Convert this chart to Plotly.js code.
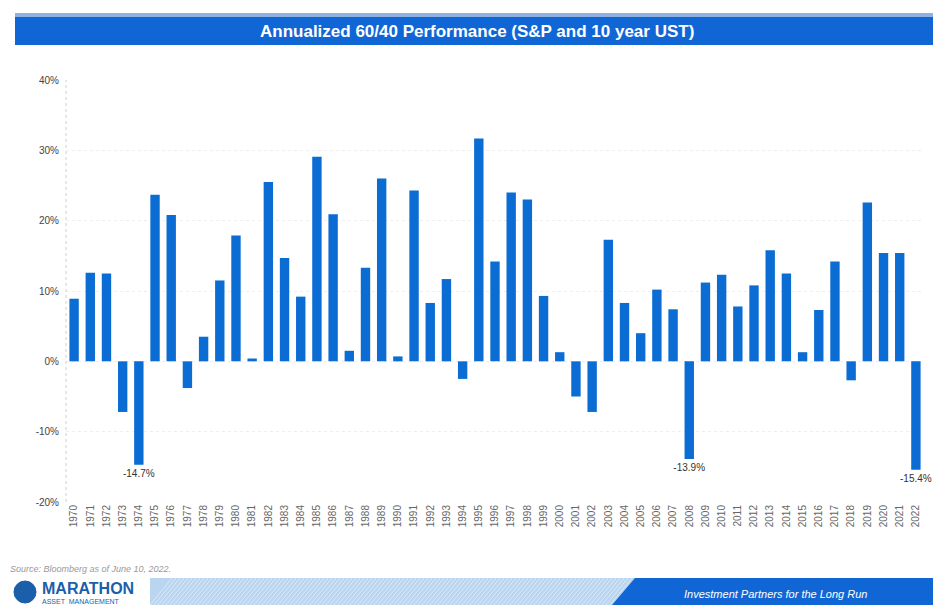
<!DOCTYPE html>
<html>
<head>
<meta charset="utf-8">
<script src="https://cdn.plot.ly/plotly-3.0.1.min.js"></script>
<style>html,body{margin:0;padding:0;background:#fff;}#chart{width:933px;height:605px;}</style>
</head>
<body>
<div id="chart"></div>
<script>
const years = ["1970","1971","1972","1973","1974","1975","1976","1977","1978","1979","1980","1981","1982","1983","1984","1985","1986","1987","1988","1989","1990","1991","1992","1993","1994","1995","1996","1997","1998","1999","2000","2001","2002","2003","2004","2005","2006","2007","2008","2009","2010","2011","2012","2013","2014","2015","2016","2017","2018","2019","2020","2021","2022"];
const returns = [8.9,12.6,12.5,-7.2,-14.7,23.7,20.8,-3.8,3.5,11.5,17.9,0.4,25.5,14.7,9.2,29.1,20.9,1.5,13.3,26.0,0.7,24.3,8.3,11.7,-2.5,31.7,14.2,24.0,23.0,9.3,1.3,-5.0,-7.2,17.3,8.3,4.0,10.2,7.4,-13.9,11.2,12.3,7.8,10.8,15.8,12.5,1.3,7.3,14.2,-2.7,22.6,15.4,15.4,-15.4];
const labelYears = ["1974","2008","2022"];
const yTickVals = [-20,-10,0,10,20,30,40];
const yTickText = ["-20%","-10%","0%","10%","20%","30%","40%"];
const titleText = "Annualized 60/40 Performance (S&P and 10 year UST)";
const sourceText = "Source: Bloomberg as of June 10, 2022.";
const taglineText = "Investment Partners for the Long Run";

const barText = years.map((y,i)=> labelYears.includes(y) ? returns[i].toFixed(1)+"%" : "");

// decorative hatch for footer band
let hatch = "";
for (let x = 150; x < 640; x += 4) {
  hatch += `M${x},605 L${x+22},578 `;
}

const trace = {
  type: "bar",
  x: years,
  y: returns,
  marker: {color: "#0b6dd3"},
  text: barText,
  textposition: "outside",
  constraintext: "none",
  textfont: {family: "Liberation Sans, Arial, sans-serif", size: 10, color: "#333"},
  cliponaxis: false,
  hoverinfo: "x+y"
};

const layout = {
  width: 933, height: 605,
  margin: {l: 66, r: 9, t: 80, b: 103},
  paper_bgcolor: "#fff", plot_bgcolor: "#fff",
  bargap: 0.42,
  showlegend: false,
  uniformtext: {mode: false},
  font: {family: "Liberation Sans, Arial, sans-serif", color: "#444"},
  xaxis: {
    type: "category",
    tickangle: -90,
    tickfont: {size: 10, color: "#666"},
    showgrid: false, showline: false, zeroline: false,
    ticks: ""
  },
  yaxis: {
    range: [-20, 40],
    tickvals: yTickVals, ticktext: yTickText,
    tickfont: {size: 10, color: "#444"},
    showgrid: true, gridcolor: "#eeeeee", griddash: "dot",
    zeroline: false, showline: false, ticks: "",
    ticklabelstandoff: 6
  },
  shapes: [
    {type: "line", xref: "paper", yref: "paper", x0: 0, x1: 0, y0: 0, y1: 1, line: {color: "#cfcfcf", width: 1, dash: "dot"}},
    // title bar
    {type: "rect", xref: "paper", yref: "paper", layer: "below",
     x0: (15-66)/858, x1: (933-66)/858, y0: (502-13)/422, y1: (502-17)/422,
     fillcolor: "#8fb3e0", line: {width: 0}},
    {type: "rect", xref: "paper", yref: "paper", layer: "below",
     x0: (15-66)/858, x1: (933-66)/858, y0: (502-45)/422, y1: (502-17)/422,
     fillcolor: "#1166d6", line: {width: 0}},
    // footer band light
    {type: "rect", xref: "paper", yref: "paper", layer: "below",
     x0: (150-66)/858, x1: (640-66)/858, y0: (502-605)/422, y1: (502-578)/422,
     fillcolor: "#b9d5ef", line: {width: 0}},
    {type: "path", xref: "paper", yref: "paper", layer: "below",
     path: hatch.replace(/(\d+),(\d+)/g, (m,a,b)=> `${(a-66)/858},${(502-b)/422}`),
     line: {color: "#dbe9f7", width: 1}},
    // footer band dark
    {type: "path", xref: "paper", yref: "paper", layer: "below",
     path: `M${(612-66)/858},${(502-605)/422} L${(635-66)/858},${(502-578)/422} L${(933-66)/858},${(502-578)/422} L${(933-66)/858},${(502-605)/422} Z`,
     fillcolor: "#1166d6", line: {width: 0}},
    // logo globe
    {type: "circle", xref: "paper", yref: "paper",
     x0: (14-66)/858, x1: (36-66)/858, y0: (502-603)/422, y1: (502-581)/422,
     fillcolor: "#1b5eaa", line: {color: "#1b5eaa", width: 1}}
  ],
  annotations: [
    {text: titleText, xref: "paper", yref: "paper", x: (477-66)/858, y: (502-31)/422,
     xanchor: "center", yanchor: "middle", showarrow: false,
     font: {family: "Liberation Sans Narrow, Liberation Sans, Arial, sans-serif", size: 17, color: "#fff", weight: "bold"}},
    {text: "<i>" + sourceText + "</i>", xref: "paper", yref: "paper", x: (8-66)/858, y: (502-569)/422,
     xanchor: "left", yanchor: "middle", showarrow: false,
     font: {size: 9, color: "#999"}},
    {text: "<b>MARATHON</b>", xref: "paper", yref: "paper", x: (40-66)/858, y: (502-588)/422,
     xanchor: "left", yanchor: "middle", showarrow: false,
     font: {family: "Liberation Sans Narrow, Liberation Sans, Arial, sans-serif", size: 16, color: "#1b5eaa"}},
    {text: "ASSET  MANAGEMENT", xref: "paper", yref: "paper", x: (40-66)/858, y: (502-601)/422,
     xanchor: "left", yanchor: "middle", showarrow: false,
     font: {size: 7, color: "#1b5eaa"}},
    {text: "<i>" + taglineText + "</i>", xref: "paper", yref: "paper", x: (775-66)/858, y: (502-594)/422,
     xanchor: "center", yanchor: "middle", showarrow: false,
     font: {family: "Liberation Sans Narrow, Liberation Sans, Arial, sans-serif", size: 11, color: "#fff"}}
  ]
};

Plotly.newPlot("chart", [trace], layout, {displayModeBar: false, staticPlot: true});
</script>
</body>
</html>
